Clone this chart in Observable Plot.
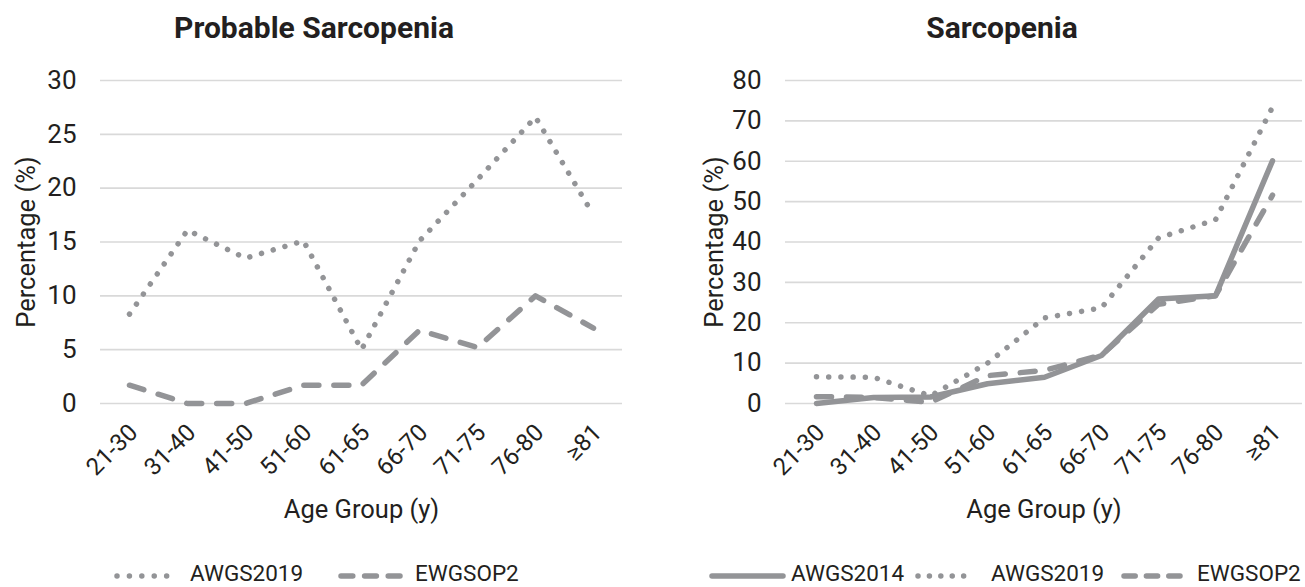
<!DOCTYPE html>
<html>
<head>
<meta charset="utf-8">
<script src="https://cdn.jsdelivr.net/npm/d3@7"></script>
<script src="https://cdn.jsdelivr.net/npm/@observablehq/plot@0.6"></script>
<style>
  html, body { margin: 0; padding: 0; background: #fff; }
  #wrap { position: relative; width: 1305px; height: 587px; background: #fff; font-family: Roboto, "Noto Sans", sans-serif; color: #231f20; overflow: hidden; }
  .title { position: absolute; top: 13px; font-size: 30px; line-height: 30px; font-weight: 700; white-space: nowrap; transform: translateX(-50%); }
  .chart { position: absolute; top: 50px; }
  .leg { position: absolute; line-height: 22px; white-space: nowrap; }
  .sw { position: absolute; height: 12px; overflow: visible; }
</style>
</head>
<body>
<div id="wrap"></div>
<script>
// ---------- data ----------
const ageGroups = ["21-30", "31-40", "41-50", "51-60", "61-65", "66-70", "71-75", "76-80", "≥81"];

const probAWGS2019 = [8.3, 16.1, 13.5, 15.1, 5.0, 15.1, 20.8, 26.6, 17.5];
const probEWGSOP2  = [1.7, 0.0, 0.0, 1.7, 1.7, 6.8, 5.2, 10.0, 7.0];

const sarcAWGS2014 = [0.0, 1.5, 1.6, 4.9, 6.5, 11.9, 25.9, 26.7, 60.1];
const sarcAWGS2019 = [6.6, 6.5, 1.9, 10.0, 21.2, 23.7, 41.0, 45.5, 73.4];
const sarcEWGSOP2  = [1.7, 1.5, 0.3, 6.9, 8.2, 12.0, 24.6, 26.7, 51.6];

const probTicks = [0, 5, 10, 15, 20, 25, 30];
const sarcTicks = [0, 10, 20, 30, 40, 50, 60, 70, 80];

const seriesNames = ["AWGS2014", "AWGS2019", "EWGSOP2"];
const titles = ["Probable Sarcopenia", "Sarcopenia"];
const xLabel = "Age Group (y)";
const yLabel = "Percentage (%)";

// ---------- styles ----------
const lineColor = "#939497";
const lineW = 5.5;
const styles = {
  AWGS2014: { strokeDasharray: null },
  AWGS2019: { strokeDasharray: "0.01 12.2" },
  EWGSOP2:  { strokeDasharray: "15 15" }
};

function rows(values) { return ageGroups.map((g, i) => ({ g, v: values[i] })); }

function lineMark(values, name) {
  const o = { x: "g", y: "v", stroke: lineColor, strokeWidth: lineW, strokeLinecap: "round", strokeLinejoin: "round" };
  if (styles[name].strokeDasharray) o.strokeDasharray = styles[name].strokeDasharray;
  return Plot.line(rows(values), o);
}

function makeChart({ width, marginLeft, marginRight, domain, ticks, series, labelOffsetY }) {
  return Plot.plot({
    width, height: 480,
    marginTop: 30, marginBottom: 127, marginLeft, marginRight,
    style: { fontFamily: "Roboto, 'Noto Sans', sans-serif", fontSize: "25px", color: "#231f20", background: "transparent", overflow: "visible" },
    x: { type: "point", domain: ageGroups, padding: 0.5, label: null },
    y: { domain, ticks, label: null },
    marks: [
      Plot.gridY(ticks, { stroke: "#d9d9d9", strokeOpacity: 1, strokeWidth: 1.6 }),
      Plot.axisY({ ticks, tickSize: 0, tickPadding: 24, fontSize: 26, label: null }),
      Plot.axisY({ ticks: [], tickSize: 0, fontSize: 25.5, label: yLabel, labelAnchor: "center", labelArrow: "none", labelOffset: labelOffsetY }),
      Plot.axisX({ tickSize: 0, tickPadding: 25, dx: 4, tickRotate: -45, textAnchor: "end", lineAnchor: "middle", fontSize: 24, label: null }),
      Plot.axisX({ ticks: [], tickSize: 0, fontSize: 25.5, label: xLabel, labelAnchor: "center", labelArrow: "none", labelOffset: 114 }),
      ...series.map(([vals, name]) => lineMark(vals, name))
    ]
  });
}

const wrap = document.getElementById("wrap");

// titles
[[titles[0], 314], [titles[1], 1002]].forEach(([t, cx]) => {
  const d = document.createElement("div");
  d.className = "title"; d.style.left = cx + "px"; d.textContent = t;
  wrap.appendChild(d);
});

// left chart
const left = makeChart({
  width: 650, marginLeft: 100, marginRight: 28, domain: [0, 30], ticks: probTicks, labelOffsetY: 84,
  series: [[probAWGS2019, "AWGS2019"], [probEWGSOP2, "EWGSOP2"]]
});
const lw = document.createElement("div"); lw.className = "chart"; lw.style.left = "0px"; lw.appendChild(left); wrap.appendChild(lw);

// right chart
const right = makeChart({
  width: 655, marginLeft: 135, marginRight: 3, domain: [0, 80], ticks: sarcTicks, labelOffsetY: 81,
  series: [[sarcAWGS2014, "AWGS2014"], [sarcAWGS2019, "AWGS2019"], [sarcEWGSOP2, "EWGSOP2"]]
});
const rw = document.createElement("div"); rw.className = "chart"; rw.style.left = "650px"; rw.appendChild(right); wrap.appendChild(rw);

// legends
function swatch(name, x, w) {
  const ns = "http://www.w3.org/2000/svg";
  const s = document.createElementNS(ns, "svg");
  s.setAttribute("class", "sw"); s.setAttribute("width", w); s.setAttribute("height", 12);
  s.style.left = x + "px"; s.style.top = "570px";
  const l = document.createElementNS(ns, "line");
  l.setAttribute("x1", 3); l.setAttribute("x2", w - 3); l.setAttribute("y1", 6); l.setAttribute("y2", 6);
  l.setAttribute("stroke", lineColor); l.setAttribute("stroke-width", lineW); l.setAttribute("stroke-linecap", "round");
  if (name === "AWGS2019") l.setAttribute("stroke-dasharray", "0.01 " + ((w - 6) / 5));
  if (name === "EWGSOP2") { const d = (w - 6) / 5; l.setAttribute("stroke-dasharray", d + " " + d); }
  s.appendChild(l);
  wrap.appendChild(s);
}
function legText(t, x, size) {
  const d = document.createElement("div"); d.className = "leg";
  d.style.left = x + "px"; d.style.fontSize = size + "px"; d.style.top = "562px";
  d.textContent = t; wrap.appendChild(d);
}
// left legend
swatch("AWGS2019", 114, 68); legText(seriesNames[1], 190, 22.5);
swatch("EWGSOP2", 338, 65); legText(seriesNames[2], 415, 22.5);
// right legend
swatch("AWGS2014", 709, 77); legText(seriesNames[0], 791, 22.5);
swatch("AWGS2019", 915, 63); legText(seriesNames[1], 991, 22.5);
swatch("EWGSOP2", 1121, 62); legText(seriesNames[2], 1197, 22.5);
</script>
</body>
</html>
